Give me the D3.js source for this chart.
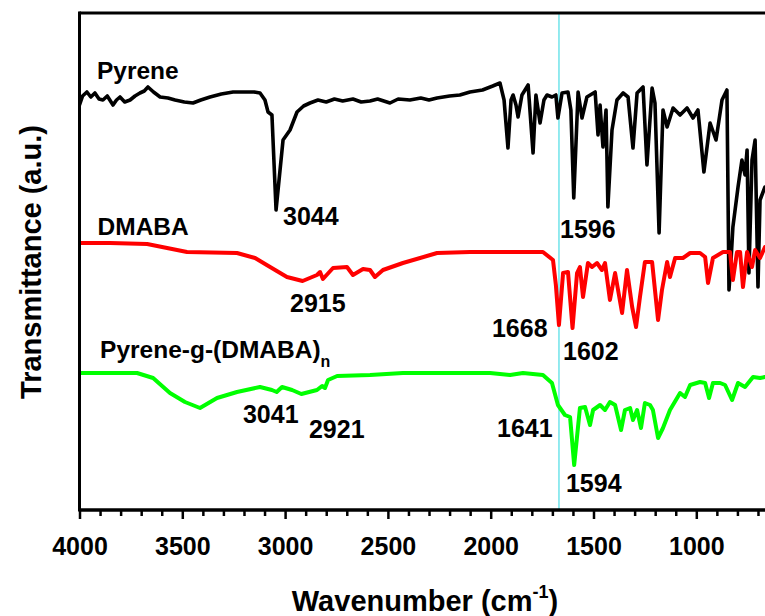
<!DOCTYPE html>
<html>
<head>
<meta charset="utf-8">
<script src="https://cdn.jsdelivr.net/npm/d3@7"></script>
<style>
  html, body { margin: 0; padding: 0; background: #fff; }
  svg { display: block; }
  text { font-family: "Liberation Sans", Arial, sans-serif; font-weight: bold; fill: #000; }
</style>
</head>
<body>
<svg id="chart" width="765" height="616"></svg>
<script>
// ---- Data (wavenumber cm-1, transmittance a.u.) ----
const pyreneWN = [4000,3985,3964,3945,3925,3905,3886,3865,3837,3820,3803,3780,3754,3730,3706,3685,3667,3640,3608,3570,3535,3490,3448,3410,3365,3310,3253,3190,3150,3122,3098,3083,3064,3044,3010,2976,2942,2910,2879,2840,2800,2760,2720,2670,2630,2587,2550,2490,2450,2393,2340,2300,2261,2200,2150,2101,2040,1990,1955,
  1935,1916,1901,1891,1877,1867,1848,1818,1794,1780,1760,1741,1726,1702,1683,1673,1653,1624,1610,1596,1575,1556,1532,1492,1478,1468,1454,1439,1430,1410,1386,1356,1332,1308,1288,1259,1240,1215,1201,1181,1162,1142,1113,1079,1045,1016,992,963,933,904,875,851,841,831,822,797,778,763,753,744,729,714,700,690,666];
const pyreneT  = [405,414,418,413,417,411,410,414,405,410,413,408,410,414,417,419,423,418,413,412,410,408,407,410,413,416,418,418,418,417,410,398,395,300,370,380,398,404,407,410,408,411,409,411,408,409,411,407,411,410,412,410,412,414,415,418,420,424,427,
  410,362,410,415,405,393,415,425,357,415,387,410,415,413,415,392,417,418,400,312,418,392,413,418,375,405,363,400,303,380,410,417,413,362,417,423,345,422,407,277,400,383,402,395,402,392,400,338,387,370,410,420,220,250,283,323,350,335,360,237,350,370,223,310,323];

const dmabaWN = [4000,3851,3671,3477,3234,3146,3073,2991,2915,2845,2830,2816,2767,2699,2670,2621,2587,2563,2524,2427,2261,2101,1940,1746,1697,1683,1668,1648,1624,1602,1580,1566,1551,1527,1507,1483,1459,1444,1420,1395,1361,1337,1312,1293,1274,1250,1215,1186,1167,1142,1128,1103,1065,1030,982,957,943,919,870,836,822,802,787,773,753,729,714,690,666];
const dmabaT  = [267,267,266,258,257,252,243,233,229,235,238,231,242,243,235,241,240,233,240,247,257,258,258,258,250,225,185,237,238,182,237,243,213,247,243,247,240,247,210,237,197,240,203,183,213,248,248,190,220,248,233,252,252,257,257,253,227,252,258,258,230,258,258,223,258,243,260,252,263];

const graftWN = [4000,3720,3642,3560,3487,3414,3331,3234,3122,3064,3041,3015,2966,2921,2845,2820,2806,2791,2747,2587,2427,2101,2003,1906,1843,1746,1702,1673,1639,1614,1594,1566,1541,1517,1502,1468,1444,1420,1395,1366,1347,1322,1308,1288,1269,1250,1225,1211,1186,1162,1128,1079,1055,1030,982,957,938,919,884,860,826,797,763,724,690,666];
const graftT  = [137,137,132,117,108,102,112,118,123,120,118,123,120,116,120,124,122,130,134,135,137,137,137,135,137,135,127,105,95,93,45,102,103,85,100,105,100,108,105,80,100,102,90,100,82,107,105,100,72,82,100,117,113,125,128,127,112,127,127,125,110,127,123,133,132,133];

const seriesNames  = ["Pyrene", "DMABA", "Pyrene-g-(DMABA)"];
const xTickValues  = [4000, 3500, 3000, 2500, 2000, 1500, 1000];
const markerWN     = 1668;

// peak labels: [text, wavenumber anchor, transmittance anchor]
const peakLabels = [
  ["3044", 3010, 285],
  ["1596", 1663, 272],
  ["2915", 2976, 198],
  ["1668", 1994, 173],
  ["1602", 1648, 150],
  ["3041", 3205, 87],
  ["2921", 2884, 72],
  ["1641", 1969, 73],
  ["1594", 1634, 18]
];
// series name labels: [text, wavenumber, transmittance]
const nameLabels = [
  [seriesNames[0], 3915, 431],
  [seriesNames[1], 3912, 275],
  [seriesNames[2], 3900, 152]
];

// ---- Layout ----
const pL = 79.5, pT = 13, pB = 510, W = 765, H = 616;
const x = d3.scaleLinear().domain([4000, 400]).range([pL, pL + 3600 * 0.2056]);
const y = d3.scaleLinear().domain([0, 497]).range([pB, pT]);

const svg = d3.select("#chart");

svg.append("defs").append("clipPath").attr("id", "plotclip")
  .append("rect").attr("x", pL).attr("y", pT - 2).attr("width", W - pL).attr("height", pB - pT + 4);

const plot = svg.append("g").attr("clip-path", "url(#plotclip)");

// marker line
plot.append("line")
  .attr("x1", x(markerWN)).attr("x2", x(markerWN))
  .attr("y1", pT).attr("y2", pB)
  .attr("stroke", "#6fe3ea").attr("stroke-width", 1.5);

const line = d3.line().x(d => x(d[0])).y(d => y(d[1])).curve(d3.curveLinear);
const series = [
  [pyreneWN, pyreneT, "#000000", 3.6],
  [dmabaWN, dmabaT, "#ff0000", 4],
  [graftWN, graftT, "#00ff00", 4]
];
series.forEach(([wn, t, col, w]) => {
  plot.append("path")
    .datum(wn.map((v, i) => [v, t[i]]))
    .attr("d", line)
    .attr("fill", "none")
    .attr("stroke", col)
    .attr("stroke-width", w)
    .attr("stroke-linejoin", "round")
    .attr("stroke-linecap", "round");
});

// frame
svg.append("line").attr("x1", pL).attr("x2", W).attr("y1", pT).attr("y2", pT)
  .attr("stroke", "#000").attr("stroke-width", 3);
svg.append("line").attr("x1", pL).attr("x2", pL).attr("y1", pT - 1.5).attr("y2", pB + 1.5)
  .attr("stroke", "#000").attr("stroke-width", 3);

// bottom axis
const minorTicks = d3.range(4000, 499, -100).filter(v => v % 500 !== 0);
const axMinor = d3.axisBottom(x).tickValues(minorTicks).tickSize(6).tickFormat("");
const axMajor = d3.axisBottom(x).tickValues(xTickValues).tickSize(9).tickPadding(18).tickFormat(d3.format("d"));
const gMinor = svg.append("g").attr("transform", `translate(0,${pB})`).call(axMinor);
gMinor.select(".domain").remove();
gMinor.selectAll("line").attr("stroke", "#000").attr("stroke-width", 2.5);
const gMajor = svg.append("g").attr("transform", `translate(0,${pB})`).call(axMajor);
gMajor.select(".domain").attr("stroke", "#000").attr("stroke-width", 3.5).attr("d", `M${pL},0H${W + 5}`);
gMajor.selectAll("line").attr("stroke", "#000").attr("stroke-width", 2.5);
gMajor.selectAll("text").attr("font-size", 25).attr("font-family", "Liberation Sans, Arial, sans-serif")
  .attr("font-weight", "bold").attr("fill", "#000").attr("dy", "0.71em");

// series and peak labels
nameLabels.forEach(([txt, wn, t], i) => {
  const tx = svg.append("text").attr("x", x(wn)).attr("y", y(t)).attr("font-size", 24.5).text(txt);
  if (i === 2) tx.append("tspan").attr("font-size", 16).attr("dy", 9).text("n");
});
peakLabels.forEach(([txt, wn, t]) => {
  svg.append("text").attr("x", x(wn)).attr("y", y(t)).attr("font-size", 25).text(txt);
});

// axis titles
const xt = svg.append("text").attr("x", 425).attr("y", 611).attr("text-anchor", "middle").attr("font-size", 29);
xt.append("tspan").text("Wavenumber (cm");
xt.append("tspan").attr("font-size", 18).attr("dy", -13).text("-1");
xt.append("tspan").attr("dy", 13).text(")");

svg.append("text").attr("transform", "translate(41,262) rotate(-90)")
  .attr("text-anchor", "middle").attr("font-size", 29).text("Transmittance (a.u.)");
</script>
</body>
</html>
